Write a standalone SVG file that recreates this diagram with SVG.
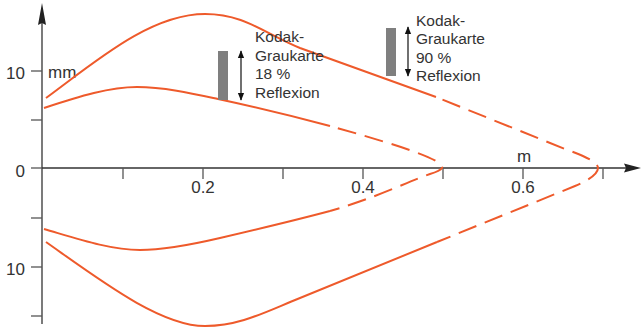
<svg xmlns="http://www.w3.org/2000/svg" width="642" height="329" viewBox="0 0 642 329">
<defs>
<style>
.ax{stroke:#333;stroke-width:1.3;fill:none}
.tk{stroke:#555;stroke-width:1.3;fill:none}
.c{stroke:#ee5a2b;stroke-width:2;fill:none;stroke-linecap:butt}
.d{stroke-dasharray:19 9;stroke-dashoffset:20}
.t{font-family:"Liberation Sans",Arial,sans-serif;fill:#333}
.n{font-size:17px}
.k{font-size:15.5px}
.card{fill:#7f7f7f}
.arr{stroke:#111;stroke-width:1.2;fill:none}
</style>
<marker id="ah" viewBox="0 0 10 10" refX="9" refY="5" markerWidth="8" markerHeight="8" markerUnits="userSpaceOnUse" orient="auto-start-reverse">
<path d="M0,1 L10,5 L0,9 Z" fill="#111"/>
</marker>
</defs>
<rect width="642" height="329" fill="#fff"/>
<g id="axes">
<line class="ax" x1="42" y1="20" x2="42" y2="324"/>
<path d="M42,3 L46,25 L42,23 L38,25 Z" fill="#222"/>
<line class="ax" x1="42" y1="168" x2="628" y2="168"/>
<path d="M641,168 L624,163.5 L626,168 L624,172.5 Z" fill="#222"/>
<g class="tk">
<line x1="31" y1="71" x2="42" y2="71"/>
<line x1="31" y1="120" x2="42" y2="120"/>
<line x1="31" y1="168" x2="42" y2="168"/>
<line x1="31" y1="218" x2="42" y2="218"/>
<line x1="31" y1="267" x2="42" y2="267"/>
<line x1="31" y1="316" x2="42" y2="316"/>
<line x1="123" y1="168" x2="123" y2="179"/>
<line x1="203" y1="168" x2="203" y2="179"/>
<line x1="283" y1="168" x2="283" y2="179"/>
<line x1="363" y1="168" x2="363" y2="179"/>
<line x1="443" y1="168" x2="443" y2="179"/>
<line x1="523" y1="168" x2="523" y2="179"/>
<line x1="603" y1="168" x2="603" y2="179"/>
</g>
<g class="t n">
<text x="25" y="79" text-anchor="end">10</text>
<text x="25" y="177" text-anchor="end">0</text>
<text x="25" y="275" text-anchor="end">10</text>
<text x="48" y="78">mm</text>
<text x="203" y="193" text-anchor="middle">0.2</text>
<text x="363" y="193" text-anchor="middle">0.4</text>
<text x="523" y="193" text-anchor="middle">0.6</text>
<text x="524" y="162" text-anchor="middle">m</text>
</g>
</g>
<g id="curves">
<path class="c" d="M46,98 C95,62 150,14 205,14 C245,14 265,34 300,48 L436,97"/>
<path class="c d" style="stroke-dashoffset:21" d="M436,97 L565,149 C588,157 598,163 598,168 C598,173 590,180 575,186 L437,242"/>
<path class="c" d="M437,242 L300,298 C265,312 240,326 205,326 C160,326 100,280 46,242"/>
<path class="c" d="M44,108 C80,96 110,87 137,87 C165,87 195,94 218,99 C260,108 300,118 330,126"/>
<path class="c d" d="M330,126 C380,140 420,152 436,161 Q443,165 442,168 Q440,171 430,174 C400,185 375,198 330,211"/>
<path class="c" d="M330,211 C300,219 250,231 220,238 C190,245 165,250 140,250 C110,250 75,238 44,229"/>
</g>
<g id="card18">
<rect class="card" x="218" y="51" width="10" height="49"/>
<line class="arr" x1="241" y1="51" x2="241" y2="100" marker-start="url(#ah)" marker-end="url(#ah)"/>
<text class="t k" x="255"><tspan x="255" y="42">Kodak-</tspan><tspan x="255" y="60.5">Graukarte</tspan><tspan x="255" y="79">18 %</tspan><tspan x="255" y="97.5">Reflexion</tspan></text>
</g>
<g id="card90">
<rect class="card" x="386" y="28" width="10" height="48"/>
<line class="arr" x1="408" y1="27" x2="408" y2="76" marker-start="url(#ah)" marker-end="url(#ah)"/>
<text class="t k" x="416"><tspan x="416" y="26">Kodak-</tspan><tspan x="416" y="44.3">Graukarte</tspan><tspan x="416" y="62.6">90 %</tspan><tspan x="416" y="81">Reflexion</tspan></text>
</g>
</svg>
